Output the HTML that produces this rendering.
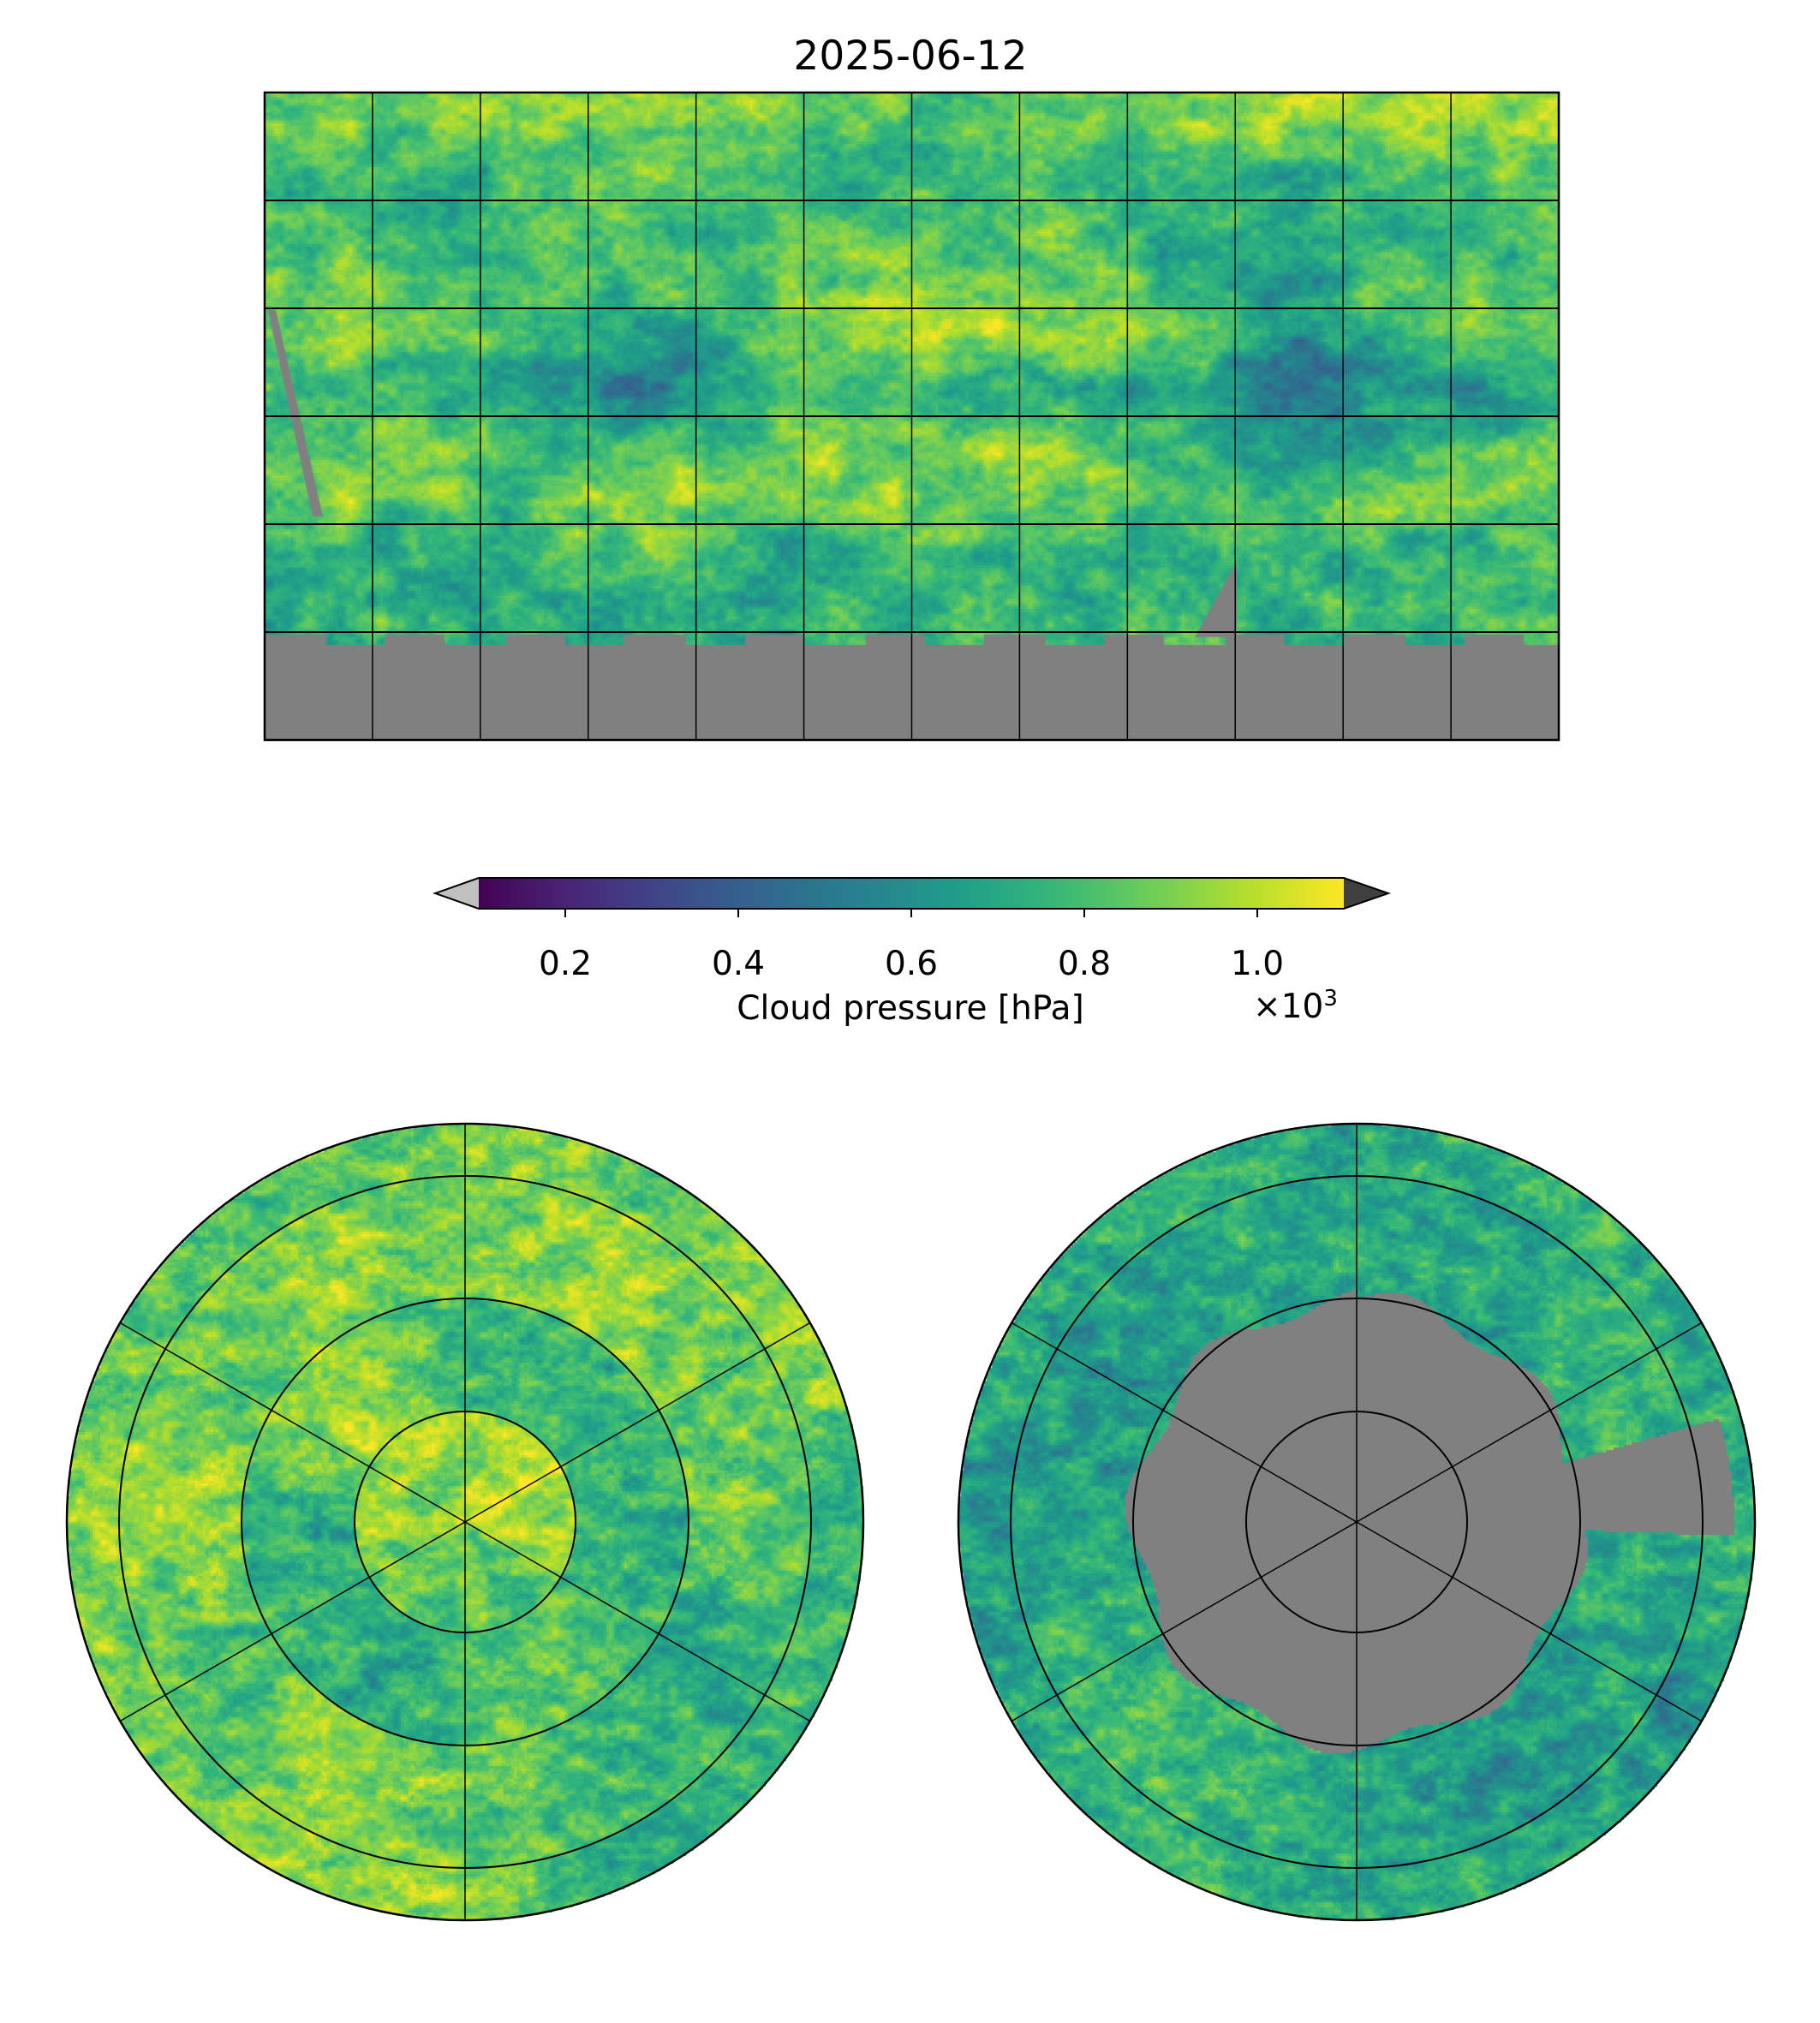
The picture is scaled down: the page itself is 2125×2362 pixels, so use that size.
<!DOCTYPE html>
<html><head><meta charset="utf-8">
<style>
body{margin:0;background:#fff;width:2125px;height:2362px;overflow:hidden;position:relative;font-family:"DejaVu Sans","Liberation Sans",sans-serif}
canvas,svg{position:absolute;left:0;top:0}
.t{position:absolute;color:#000;white-space:nowrap}
</style></head><body>
<canvas id="c" width="2125" height="2362"></canvas>
<svg id="s" width="2125" height="2362"></svg>
<div class="t" style="left:0;width:2126px;text-align:center;top:38px;font-size:47px">2025-06-12</div>
<div class="t" style="left:0;width:2126px;text-align:center;top:1155px;font-size:39px">Cloud pressure [hPa]</div>
<div class="t" style="left:1463px;top:1151px;font-size:39px">×10<sup style="font-size:26px">3</sup></div>
<script>
// ---- data ----
const cbTicks=[0.2,0.4,0.6,0.8,1.0];
const cbTickLabels=["0.2","0.4","0.6","0.8","1.0"];
const vmin=100,vmax=1100;
// world grid: 10 rows (90N..60S, 15deg), 24 cols (180W..180E), digit d -> 300+80d hPa
const worldRows=[
"787788888877667788888888",
"665566776645666566556677",
"676577656677667656665566",
"787656676778877765447766",
"887766445787898877445687",
"665544334676554644324445",
"778775676787788766444667",
"786868787888777866668887",
"564657686556756666565556",
"566565566565566566566566"];
// north polar rings (inner->outer), 12 sectors clockwise from top
const northRings=["889886777888","666567656588","787756786878","878665887876"];
const southRings=["555555555555","555555555555","556554566545","565645565456"];
const ringRadii=[129,261,404,465];

const V=[[68,1,84],[72,40,120],[62,74,137],[49,104,142],[38,130,142],[31,158,137],[53,183,121],[109,205,89],[180,222,44],[253,231,37]];
function vir(t){t=Math.max(0,Math.min(1,t))*9;const i=Math.min(8,Math.floor(t)),f=t-i;return V[i].map((a,k)=>Math.round(a+(V[i+1][k]-a)*f));}
function hsh(x,y){let h=(x*374761393+y*668265263)|0;h=(h^(h>>>13))*1274126177|0;return ((h^(h>>>16))>>>0)/4294967295;}
function vn(x,y){const ix=Math.floor(x),iy=Math.floor(y),fx=x-ix,fy=y-iy;const a=hsh(ix,iy),b=hsh(ix+1,iy),c=hsh(ix,iy+1),d=hsh(ix+1,iy+1);const u=fx*fx*(3-2*fx),v=fy*fy*(3-2*fy);return a+(b-a)*u+(c-a)*v+(a-b-c+d)*u*v;}
function tex(x,y){return (vn(x/40,y/25)-0.5)*1.8+(vn(x/12+50,y/9)-0.5)*1.3+(vn(x/4+9,y/4)-0.5)*0.6;}
function dig(ch){return 300+80*(+ch);}
const cv=document.getElementById('c'),ctx=cv.getContext('2d');
const S=3;
// world map
const MX=309,MY=108,MW=1511,MH=756;
const X=lon=>MX+(lon+180)/360*MW, Y=lat=>MY+(90-lat)/180*MH;
function worldVal(px,py){
  const gx=(px-MX)/MW*24-0.5, gy=(py-MY)/(MH*150/180)*10-0.5;
  const x0=Math.max(0,Math.min(23,Math.floor(gx))),x1=Math.min(23,x0+1),y0=Math.max(0,Math.min(9,Math.floor(gy))),y1=Math.min(9,y0+1);
  const fx=Math.max(0,Math.min(1,gx-x0)),fy=Math.max(0,Math.min(1,gy-y0));
  const g=(r,c)=>dig(worldRows[r][c]);
  return g(y0,x0)*(1-fx)*(1-fy)+g(y0,x1)*fx*(1-fy)+g(y1,x0)*(1-fx)*fy+g(y1,x1)*fx*fy;
}
for(let py=MY;py<MY+MH;py+=S)for(let px=MX;px<MX+MW;px+=S){
  let col;
  const gl=Y(-61.5)+((Math.floor((px-MX)/70)%2)?6:-4);
  if(py>gl) col=[128,128,128];
  else{const v=worldVal(px,py)+tex(px,py)*120;col=vir((v-vmin)/(vmax-vmin));}
  ctx.fillStyle=`rgb(${col})`;ctx.fillRect(px,py,S,S);
}
ctx.fillStyle='#808080';
ctx.beginPath();ctx.moveTo(1395,744);ctx.lineTo(1444,656);ctx.lineTo(1444,744);ctx.fill();
ctx.beginPath();ctx.moveTo(313,362);ctx.lineTo(322,362);ctx.lineTo(377,603);ctx.lineTo(365,603);ctx.fill();
// polar maps
const PCY=1777;
function polar(cx,cy,rings,south){
  const R=ringRadii[3];
  for(let py=cy-R;py<cy+R;py+=S)for(let px=cx-R;px<cx+R;px+=S){
    const dx=px+1-cx,dy=py+1-cy,r=Math.hypot(dx,dy);if(r>R)continue;
    let ang=Math.atan2(dx,-dy)*180/Math.PI;if(ang<0)ang+=360;
    let col;
    if(south&&(r<260+12*Math.sin(ang/7)||(ang>74&&ang<92&&r<440)))col=[128,128,128];
    else{
      let ri=0;while(ri<3&&r>ringRadii[ri])ri++;
      const sf=ang/30,s0=Math.floor(sf)%12,s1=(s0+1)%12,f=sf-Math.floor(sf);
      const v0=dig(rings[ri][s0])*(1-f)+dig(rings[ri][s1])*f;
      const v=v0+tex(px*1.3,py*1.3)*130;col=vir((v-vmin)/(vmax-vmin));
    }
    ctx.fillStyle=`rgb(${col})`;ctx.fillRect(px,py,S,S);
  }
}
polar(543,PCY,northRings,false);
polar(1584,PCY,southRings,true);
// overlays
const svg=document.getElementById('s'),NS='http://www.w3.org/2000/svg';
function el(t,a,p){const e=document.createElementNS(NS,t);for(const k in a)e.setAttribute(k,a[k]);(p||svg).appendChild(e);return e;}
const lonLines=[-150,-120,-90,-60,-30,0,30,60,90,120,150];
const latLines=[60,30,0,-30,-60];
for(const lo of lonLines){const l=el('line',{x1:X(lo),x2:X(lo),y1:MY,y2:MY+MH,stroke:'#000','stroke-width':1.5});

}
for(const la of latLines){const l=el('line',{x1:MX,x2:MX+MW,y1:Y(la),y2:Y(la),stroke:'#000','stroke-width':2});

}
const fr=el('rect',{x:MX,y:MY,width:MW,height:MH,fill:'none',stroke:'#000','stroke-width':2.5});


for(const [cx,nm] of [[543,'north-polar-map'],[1584,'south-polar-map']]){
  const R=ringRadii[3];
  const g=el('g',{});
  
  
  for(const r of ringRadii.slice(0,3))el('circle',{cx,cy:PCY,r,fill:'none',stroke:'#000','stroke-width':2},g);
  for(const a of [90,30,-30]){const t=a*Math.PI/180;el('line',{x1:cx-R*Math.cos(t),y1:PCY-R*Math.sin(t),x2:cx+R*Math.cos(t),y2:PCY+R*Math.sin(t),stroke:'#000','stroke-width':1.5},g);}
  el('circle',{cx,cy:PCY,r:R,fill:'none',stroke:'#000','stroke-width':2.5},g);
}
// colorbar
const CB0=559,CB1=1569,CBY=1025,CBH=36;
const cx2=v=>CB0+(v*1000-vmin)/(vmax-vmin)*(CB1-CB0);
const defs=el('defs',{});const gr=el('linearGradient',{id:'vg',x1:0,x2:1,y1:0,y2:0},defs);
for(let i=0;i<=20;i++){el('stop',{offset:i/20,'stop-color':`rgb(${vir(i/20)})`},gr);}
const cb=el('g',{});


el('rect',{x:CB0,y:CBY,width:CB1-CB0,height:CBH,fill:'url(#vg)'},cb);
el('polygon',{points:`${CB0},${CBY} 508,${CBY+CBH/2} ${CB0},${CBY+CBH}`,fill:'#c0c0c0'},cb);
el('polygon',{points:`${CB1},${CBY} 1621,${CBY+CBH/2} ${CB1},${CBY+CBH}`,fill:'#404040'},cb);
el('polygon',{points:`${CB0},${CBY} ${CB1},${CBY} 1621,${CBY+CBH/2} ${CB1},${CBY+CBH} ${CB0},${CBY+CBH} 508,${CBY+CBH/2}`,fill:'none',stroke:'#000','stroke-width':2},cb);
cbTicks.forEach((v,i)=>{
  const x=cx2(v);
  el('line',{x1:x,x2:x,y1:CBY+CBH,y2:CBY+CBH+10,stroke:'#000','stroke-width':2},cb);
  const t=el('text',{x,y:1138,'text-anchor':'middle','font-size':39,'font-family':'DejaVu Sans, Liberation Sans, sans-serif'},cb);
  t.textContent=cbTickLabels[i];
  
  
});
</script>
</body></html>
